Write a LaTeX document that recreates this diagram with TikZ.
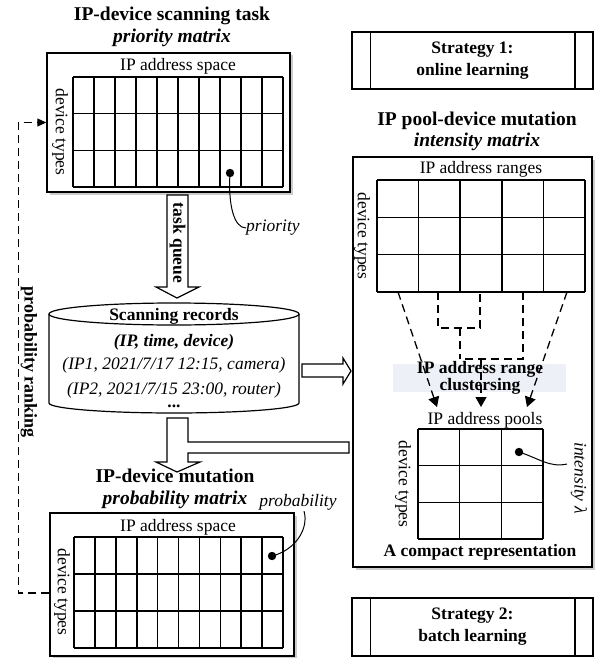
\documentclass[tikz,border=0pt]{standalone}
\usepackage{fontspec}
\setmainfont{Liberation Serif}
\usetikzlibrary{arrows.meta,calc,shadows}
\definecolor{cbg}{HTML}{EEF0F8}

\begin{document}
\begin{tikzpicture}[
  x=1pt, y=-1pt,
  txt/.style={font=\fontsize{17.5}{20}\selectfont, inner sep=0pt},
  ttl/.style={font=\fontsize{19.5}{21.5}\selectfont\bfseries, align=center, inner sep=0pt},
  mbox/.style={draw, line width=1.5pt, fill=white, inner sep=0pt,
                drop shadow={shadow xshift=2.5pt, shadow yshift=-2.5pt, opacity=0.4}},
  gline/.style={line width=1.6pt},
  sbox/.style={draw, line width=1.5pt, align=center, inner sep=0pt,
               font=\fontsize{17.5}{22}\selectfont\bfseries},
  blk/.style={draw, line width=1.2pt, fill=white},
  dsh/.style={dash pattern=on 8pt off 5pt, line width=1.3pt},
  tip/.style={-{Triangle[length=10pt,width=11pt]}}
]
\useasboundingbox (0,0) rectangle (595,658);

% scanning task priority matrix
\node[ttl] (ptitle) at (172,27) {IP-device scanning task\\\textit{priority matrix}};
\node[mbox, minimum width=243, minimum height=139] (prio) at (168.5,122.5) {};
\node[txt] (pspace) at (178,66) {IP address space};
\node[txt, rotate=-90] (ptypes) at (60,132) {device types};
\foreach \i in {0,...,10}
  \draw[gline] ({73+21*\i},77) -- ({73+21*\i},187);
\foreach \j in {0,...,3}
  \draw[gline] (73,{77+110/3*\j}) -- (283,{77+110/3*\j});
\fill (230,173) circle (4.2) coordinate (pdot);
\node[txt, font=\fontsize{17.5}{20}\selectfont\itshape, anchor=west] (plabel) at (246,228) {priority};
\draw[line width=1pt] (pdot) .. controls (228,205) and (234,228) .. (plabel.west);

% task queue
\draw[blk] (167,195) -- (188,195) -- (188,287) -- (199,287) -- (177,298) -- (156,287) -- (167,287) -- cycle;
\node[txt, font=\fontsize{17.5}{20}\selectfont\bfseries, rotate=-90] (queue) at (177.5,243) {task queue};

% scanning records
\draw[line width=1.2pt, fill=white] (49,314) -- (49,403)
  arc[start angle=180, end angle=0, x radius=125, y radius=10] -- (299,314);
\draw[line width=1.2pt] (174,314) ellipse [x radius=125, y radius=11];
\node[txt, font=\fontsize{17.5}{20}\selectfont\bfseries] (rec) at (174,316) {Scanning records};
\node[txt, font=\fontsize{17.5}{20}\selectfont\bfseries\itshape] (rec1) at (174,342) {(IP, time, device)};
\node[txt, font=\fontsize{17.5}{20}\selectfont\itshape] (rec2) at (174,365) {(IP1, 2021/7/17 12:15, camera)};
\node[txt, font=\fontsize{17.5}{13}\selectfont\itshape, align=center] (rec3) at (174,395)
  {(IP2, 2021/7/15 23:00, router)\\\textbf{\upshape ...}};

% block arrows
\draw[blk] (302,364) -- (343,364) -- (343,358) -- (351,371) -- (343,384) -- (343,377) -- (302,377) -- cycle;
\draw[blk] (167,418) -- (188,418) -- (188,442) -- (349,442) -- (349,453) -- (188,453) -- (188,462)
  -- (200,462) -- (177,472) -- (156,462) -- (167,462) -- cycle;

% mutation probability matrix
\node[ttl] (btitle) at (175,489) {IP-device mutation\\\textit{probability matrix}};
\node[mbox, minimum width=244, minimum height=143] (prob) at (172,584.5) {};
\node[txt] (bspace) at (178,527) {IP address space};
\node[txt, rotate=-90] (btypes) at (62,592) {device types};
\foreach \i in {0,...,10}
  \draw[gline] ({74+20.9*\i},537) -- ({74+20.9*\i},648);
\foreach \j in {0,...,3}
  \draw[gline] (74,{537+37*\j}) -- (283,{537+37*\j});
\fill (272,556) circle (4.2) coordinate (bdot);
\node[txt, font=\fontsize{17.5}{20}\selectfont\itshape] (blabel) at (298,502) {probability};
\draw[line width=1pt] (bdot) .. controls (296,550) and (309,528) .. ($(blabel.south)+(6,1)$);

% probability ranking
\draw[dsh, -{Triangle[length=9pt,width=8pt]}] ($(prob.west)+(0,8.5)$) -- ++(-31,0) |- (prio.west);
\node[txt, font=\fontsize{18}{20}\selectfont\bfseries, rotate=-90] (rank) at (29,362) {probability ranking};

% strategies
\node[sbox, minimum width=241, minimum height=57] (s1) at (472.5,60.5) {Strategy 1:\\online learning};
\draw[line width=1.5pt] ($(s1.north west)+(19,0)$) -- ($(s1.south west)+(19,0)$);
\draw[line width=1.5pt] ($(s1.north east)+(-19,0)$) -- ($(s1.south east)+(-19,0)$);
\node[sbox, minimum width=241, minimum height=58] (s2) at (472.5,627) {Strategy 2:\\batch learning};
\draw[line width=1.5pt] ($(s2.north west)+(19,0)$) -- ($(s2.south west)+(19,0)$);
\draw[line width=1.5pt] ($(s2.north east)+(-19,0)$) -- ($(s2.south east)+(-19,0)$);

% pool-device intensity matrix
\node[ttl] (ititle) at (477,131.5) {IP pool-device mutation\\\textit{intensity matrix}};
\node[mbox, minimum width=239, minimum height=410] (panel) at (472.5,362) {};
\node[txt] (ranges) at (481,169) {IP address ranges};
\node[txt, rotate=-90] (rtypes) at (362,236) {device types};
\foreach \i in {0,...,5}
  \draw[gline] ({377+41.6*\i},180) -- ({377+41.6*\i},292);
\foreach \j in {0,...,3}
  \draw[gline] (377,{180+112/3*\j}) -- (585,{180+112/3*\j});

% clustering
\fill[cbg] (393,364) rectangle (566,392);
\node[txt, font=\fontsize{17.5}{15}\selectfont\bfseries, align=center] (clu) at (480,378) {IP address range\\clustersing};
\node[txt] (pools) at (485,420) {IP address pools};
\draw[dsh, tip] (398,292) -- (437,407);
\draw[dsh, tip] (567,292) -- (527,407);
\draw[dsh] (438,292) -- (438,328) -- (480,328) -- (480,292);
\draw[dsh] (460,328) -- (460,359);
\draw[dsh] (523,292) -- (523,359) -- (460,359);
\draw[dsh, tip] (481,359) -- (481,407);

% compact representation
\node[txt, rotate=-90] (ctypes) at (403,484) {device types};
\foreach \i in {0,...,3}
  \draw[gline] ({418+125/3*\i},429) -- ({418+125/3*\i},539);
\foreach \j in {0,...,3}
  \draw[gline] (418,{429+110/3*\j}) -- (543,{429+110/3*\j});
\fill (519,452) circle (4.2) coordinate (idot);
\node[txt, font=\fontsize{17.5}{20}\selectfont\itshape, rotate=-90] (ilabel) at (579,478) {intensity λ};
\draw[line width=1pt] (idot) .. controls (538,458) and (550,468) .. (567,464);
\node[txt, font=\fontsize{17.5}{20}\selectfont\bfseries] (compact) at (480,552) {A compact representation};
\end{tikzpicture}
\end{document}
